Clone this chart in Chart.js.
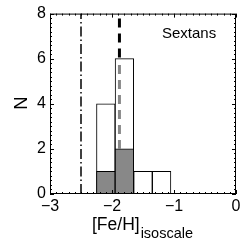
<!DOCTYPE html>
<html><head><meta charset="utf-8">
<script src="https://cdn.jsdelivr.net/npm/chart.js@4"></script>
<style>html,body{margin:0;padding:0;background:#fff}</style>
</head><body><canvas id="c" width="248" height="246"></canvas>
<script>
const binCenters = [-2.1, -1.8, -1.5, -1.2];
const allCounts = [4, 6, 1, 1];
const subCounts = [1, 2, 0, 0];
const xTicks = [-3, -2, -1, 0];
const yTicks = [0, 2, 4, 6, 8];
const dashDotX = -2.5;
const meanX = -1.88;
const panelLabel = 'Sextans';
const yTitle = 'N';
const xTitleMain = '[Fe/H]';
const xTitleSub = 'isoscale';

const FONT = '"Liberation Sans", Arial, Helvetica, sans-serif';
const fmt = v => v < 0 ? '\u2212' + Math.abs(v) : String(v);

const decor = {
  id: 'decor',
  afterDatasetsDraw(chart) {
    const {ctx, chartArea: a, scales: {x, y}} = chart;
    ctx.save();
    ctx.strokeStyle = '#000';
    ctx.lineWidth = 1;
    ctx.strokeRect(a.left + 0.5, a.top + 0.5, a.right - a.left - 1, a.bottom - a.top - 1);
    ctx.beginPath();
    const xmin = xTicks[0], xmax = xTicks[xTicks.length - 1];
    for (let i = Math.round(xmin * 10); i <= Math.round(xmax * 10); i++) {
      const px = Math.round(x.getPixelForValue(i / 10)) + 0.5;
      const L = (i % 10 === 0) ? 4 : 2;
      ctx.moveTo(px, a.bottom); ctx.lineTo(px, a.bottom - L);
      ctx.moveTo(px, a.top); ctx.lineTo(px, a.top + L);
    }
    const ymin = yTicks[0], ymax = yTicks[yTicks.length - 1];
    for (let i = Math.round(ymin * 5); i <= Math.round(ymax * 5); i++) {
      const py = Math.round(y.getPixelForValue(i / 5)) + 0.5;
      const L = (i % 10 === 0) ? 4 : 2;
      ctx.moveTo(a.left, py); ctx.lineTo(a.left + L, py);
      ctx.moveTo(a.right, py); ctx.lineTo(a.right - L, py);
    }
    ctx.stroke();
    ctx.fillStyle = '#000';
    ctx.font = '15px ' + FONT;
    ctx.textAlign = 'left';
    ctx.textBaseline = 'alphabetic';
    ctx.fillText(panelLabel, 162, 38);
    ctx.font = '17.5px ' + FONT;
    ctx.fillText(xTitleMain, 92, 230);
    const w = ctx.measureText(xTitleMain).width;
    ctx.font = '14.5px ' + FONT;
    ctx.fillText(xTitleSub, 92 + w + 1, 238);
    ctx.save();
    ctx.translate(26.5, 103);
    ctx.rotate(-Math.PI / 2);
    ctx.font = '18.5px ' + FONT;
    ctx.textAlign = 'center';
    ctx.fillText(yTitle, 0, 0);
    ctx.restore();
    ctx.restore();
  }
};

new Chart(document.getElementById('c'), {
  type: 'bar',
  data: {
    datasets: [
      { type: 'line', data: [{x: dashDotX, y: yTicks[0]}, {x: dashDotX, y: yTicks[yTicks.length - 1]}],
        borderColor: '#000', borderWidth: 1.5, borderDash: [10, 3, 1.5, 3], pointRadius: 0, order: 0 },
      { type: 'line', data: [{x: meanX, y: yTicks[yTicks.length - 1]}, {x: meanX, y: allCounts[1]}],
        borderColor: '#000', borderWidth: 3, borderDash: [9, 6], borderDashOffset: 10, pointRadius: 0, order: 0 },
      { type: 'line', data: [{x: meanX, y: yTicks[0]}, {x: meanX, y: allCounts[1]}],
        borderColor: '#888', borderWidth: 3, borderDash: [9, 6], pointRadius: 0, order: 0 },
      { data: binCenters.map((c, i) => ({x: c, y: subCounts[i] > 0 ? subCounts[i] : null})),
        backgroundColor: '#888888', borderColor: '#000', borderWidth: 1, borderSkipped: false,
        barPercentage: 1, categoryPercentage: 1, grouped: false, order: 1 },
      { data: binCenters.map((c, i) => ({x: c, y: allCounts[i]})),
        backgroundColor: '#ffffff', borderColor: '#000', borderWidth: 1, borderSkipped: false,
        barPercentage: 1, categoryPercentage: 1, grouped: false, order: 2 }
    ]
  },
  options: {
    responsive: false, animation: false, devicePixelRatio: 1,
    layout: { padding: { top: 8, right: 12, left: 0, bottom: 0 } },
    plugins: { legend: { display: false }, tooltip: { enabled: false } },
    scales: {
      x: {
        type: 'linear', min: xTicks[0], max: xTicks[xTicks.length - 1], offset: false,
        afterFit: s => { s.height = 52; },
        afterBuildTicks: s => { s.ticks = xTicks.map(v => ({value: v})); },
        ticks: { callback: fmt, color: '#000', font: { size: 16, family: FONT }, padding: 3, maxRotation: 0, autoSkip: false },
        grid: { display: false, drawTicks: false }, border: { display: false }
      },
      y: {
        type: 'linear', min: yTicks[0], max: yTicks[yTicks.length - 1],
        afterFit: s => { s.width = 50; },
        afterBuildTicks: s => { s.ticks = yTicks.map(v => ({value: v})); },
        ticks: { callback: fmt, color: '#000', font: { size: 16, family: FONT }, padding: 4, autoSkip: false },
        grid: { display: false, drawTicks: false }, border: { display: false }
      }
    }
  },
  plugins: [decor]
});
</script></body></html>
